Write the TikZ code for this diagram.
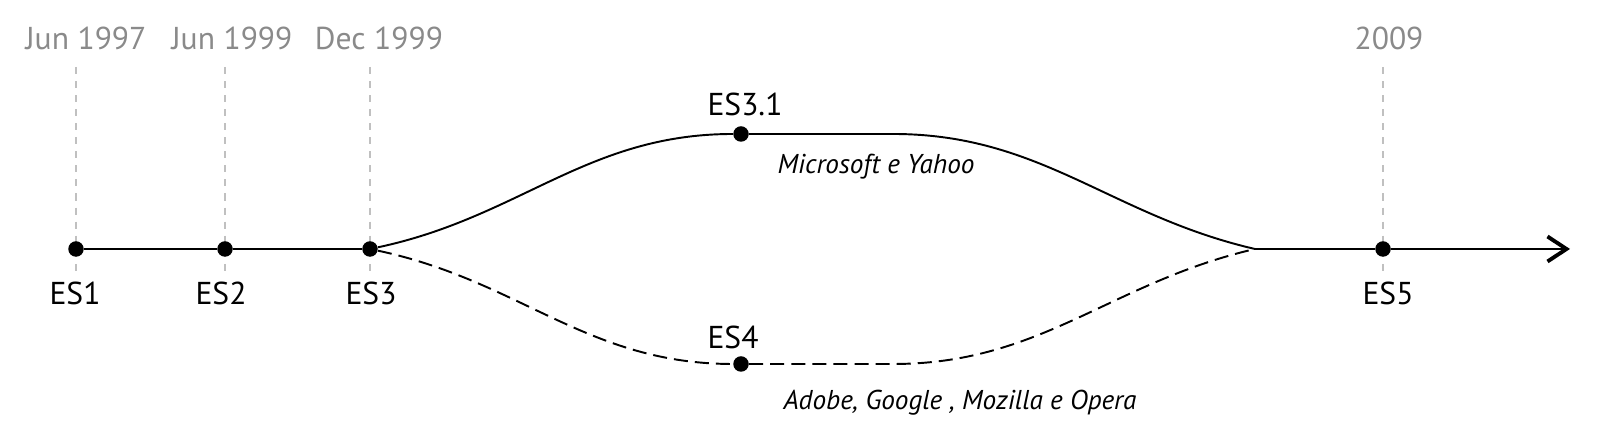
\documentclass[tikz,border=0pt]{standalone}
\usepackage{fontspec}
\setmainfont{PT Sans}
\usetikzlibrary{arrows.meta}
\definecolor{dategray}{HTML}{8A8A8A}
\definecolor{guidegray}{HTML}{C0C0C0}

\begin{document}
\begin{tikzpicture}[
    x=0.02cm, y=0.02cm,
    dot/.style={circle, fill=black, inner sep=0pt, minimum size=0.31cm},
    date/.style={text=dategray, font=\fontsize{18}{20}\selectfont, inner sep=0pt, anchor=base},
    ver/.style={font=\fontsize{18}{20}\selectfont, inner sep=0pt, anchor=base},
    note/.style={font=\fontsize{15.5}{17}\selectfont\itshape, inner sep=0pt, anchor=base},
    guide/.style={guidegray, line width=0.8pt, dash pattern=on 4pt off 4pt},
    track/.style={line width=1.1pt},
    fork/.style={track, dash pattern=on 8pt off 4pt},
    tip/.style={-{Straight Barb[length=0.38cm, width=0.5cm, line width=2.2pt]}}
]
\useasboundingbox (0,0) rectangle (1600,438);

% Guides
\foreach \x/\n in {76/1, 225/2, 370/3, 1383/5} {
  \coordinate (t\n) at (\x,371);
  \coordinate (b\n) at (\x,166);
  \draw[guide] (t\n) -- (b\n);
}

% Dates
\node[date] (d1) at (86,388) {Jun 1997};
\node[date] (d2) at (232,388) {Jun 1999};
\node[date] (d3) at (379,388) {Dec 1999};
\node[date] (d5) at (1389,388) {2009};

% Versions
\node[dot] (es1) at (76,189) {};
\node[dot] (es2) at (225,189) {};
\node[dot] (es3) at (370,189) {};
\node[dot] (es31) at (741,304) {};
\node[dot] (es4) at (741,74) {};
\node[dot] (es5) at (1383,189) {};
\coordinate (up) at (893,304);
\coordinate (low) at (893,74);
\coordinate (join) at (1255,189);
\coordinate (end) at (1570,189);

\node[ver] (l1) at (75,133) {ES1};
\node[ver] (l2) at (221,133) {ES2};
\node[ver] (l3) at (371,133) {ES3};
\node[ver] (l5) at (1388,133) {ES5};
\node[ver] (l31) at (745,322) {ES3.1};
\node[ver] (l4) at (733,89) {ES4};
\node[note] (n31) at (876,264) {Microsoft e Yahoo};
\node[note] (n4) at (960,28) {Adobe, Google , Mozilla e Opera};

% Tracks
\draw[track] (es1) -- (es2) -- (es3);
\draw[track] (es3) to[out=12, in=180] (es31) -- (up) to[out=0, in=167] (join);
\draw[fork] (es3) to[out=-12, in=180] (es4) -- (low) to[out=0, in=-167] (join);
\draw[track, tip] (join) -- (es5) -- (end);
\end{tikzpicture}
\end{document}
